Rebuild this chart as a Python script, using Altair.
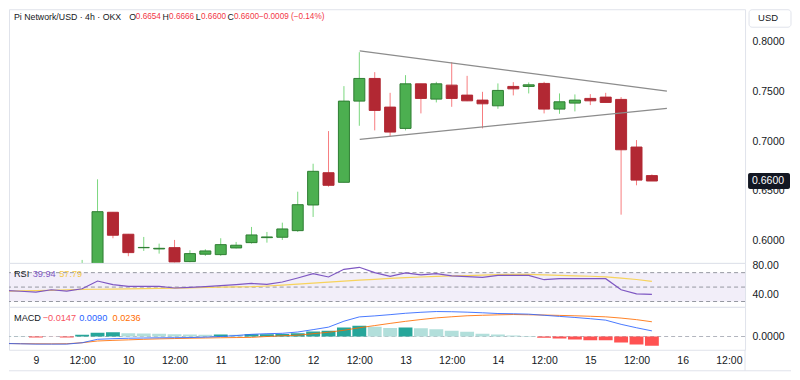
import altair as alt
import pandas as pd

# ---------------- data ----------------
# time in hours since day 9, 00:00 (4h candles)
candle_t = [12, 16, 20, 24, 28, 32, 36, 40, 44, 48, 52, 56, 60, 64, 68, 72, 76, 80, 84,
            88, 92, 96, 100, 104, 108, 112, 116, 120, 124, 128, 132, 136, 140, 144, 148, 152, 156, 160]
opens = [0.5660, 0.5750, 0.6287, 0.6067, 0.5932, 0.5920, 0.5933, 0.5793, 0.5867, 0.5863,
         0.5930, 0.5983, 0.6033, 0.6037, 0.6103, 0.6360, 0.6683, 0.6587, 0.7400, 0.7627,
         0.7340, 0.7127, 0.7573, 0.7420, 0.7560, 0.7460, 0.7410, 0.7353, 0.7547, 0.7547,
         0.7577, 0.7320, 0.7380, 0.7427, 0.7440, 0.7417, 0.6940, 0.6654]
highs = [0.5810, 0.6617, 0.6290, 0.6070, 0.6040, 0.5973, 0.6010, 0.5907, 0.5917, 0.6027,
         0.5990, 0.6140, 0.6090, 0.6183, 0.6493, 0.6773, 0.7100, 0.7550, 0.7890, 0.7690,
         0.7483, 0.7660, 0.7573, 0.7593, 0.7790, 0.7653, 0.7493, 0.7577, 0.7590, 0.7587,
         0.7593, 0.7477, 0.7467, 0.7470, 0.7483, 0.7440, 0.7010, 0.6666]
lows = [0.5620, 0.5720, 0.6027, 0.5847, 0.5900, 0.5873, 0.5785, 0.5787, 0.5850, 0.5850,
        0.5925, 0.5973, 0.5983, 0.6010, 0.6090, 0.6240, 0.6543, 0.6587, 0.7153, 0.7107,
        0.7050, 0.7107, 0.7277, 0.7387, 0.7343, 0.7400, 0.7127, 0.7323, 0.7457, 0.7477,
        0.7277, 0.7273, 0.7297, 0.7360, 0.7387, 0.6263, 0.6557, 0.6600]
closes = [0.5750, 0.6293, 0.6057, 0.5883, 0.5935, 0.5926, 0.5790, 0.5873, 0.5900, 0.5963,
          0.5957, 0.6060, 0.6040, 0.6120, 0.6363, 0.6697, 0.6557, 0.7400, 0.7627, 0.7307,
          0.7090, 0.7573, 0.7427, 0.7573, 0.7427, 0.7403, 0.7373, 0.7507, 0.7523, 0.7563,
          0.7320, 0.7393, 0.7410, 0.7403, 0.7387, 0.6913, 0.6609, 0.6600]

# indicator series start a few candles earlier (those candles are below the visible price range)
ind_t = [-8, -4, 0, 4, 8] + candle_t
rsi = [45.3, 44.2, 43.1, 46.3, 44.5,
       47.7, 58.4, 53.3, 50.9, 50.9, 50.9, 48.7, 49.6, 50.6, 52.0,
       53.5, 55.0, 53.7, 57.0, 62.6, 68.6, 64.0, 74.6, 77.4, 70.0,
       64.9, 69.6, 66.8, 68.6, 65.4, 64.5, 63.5, 66.2, 66.2, 66.2,
       60.2, 61.6, 61.6, 61.6, 61.6, 46.3, 40.7, 39.94]
rsi_ma = [44.4, 44.7, 45.0, 45.5, 46.0,
          46.7, 47.0, 47.3, 47.6, 47.9, 48.2, 48.6, 49.0, 49.4, 49.8,
          50.2, 50.6, 51.5, 52.8, 54.2, 55.6, 57.0, 58.3, 59.6, 60.8,
          62.0, 63.0, 64.0, 64.8, 65.4, 66.0, 66.6, 67.2, 67.6, 67.6,
          67.0, 66.3, 65.6, 65.0, 64.2, 62.5, 60.5, 57.79]
macd = [-0.0112, -0.0117, -0.0122, -0.0122, -0.0122,
        -0.0100, -0.0045, -0.0035, -0.0028, -0.0024, -0.0021, -0.0019, -0.0017, -0.0010, 0.0000,
        0.0015, 0.0035, 0.0045, 0.0051, 0.0072, 0.0110, 0.0150, 0.0245, 0.0314, 0.0330,
        0.0350, 0.0372, 0.0388, 0.0400, 0.0397, 0.0390, 0.0380, 0.0368, 0.0364, 0.0358,
        0.0340, 0.0322, 0.0305, 0.0285, 0.0262, 0.0195, 0.0140, 0.0090]
signal = [-0.0112, -0.0115, -0.0117, -0.0118, -0.0116,
          -0.0100, -0.0072, -0.0062, -0.0054, -0.0045, -0.0038, -0.0033, -0.0028, -0.0024, -0.0020,
          -0.0017, -0.0014, 0.0000, 0.0012, 0.0021, 0.0045, 0.0068, 0.0100, 0.0140, 0.0175,
          0.0210, 0.0243, 0.0272, 0.0298, 0.0316, 0.0332, 0.0340, 0.0347, 0.0352, 0.0348,
          0.0344, 0.0338, 0.0332, 0.0324, 0.0315, 0.0295, 0.0270, 0.0236]
hist = [0.0004, 0.0003, -0.0016, -0.0003, -0.0016,
        0.0027, 0.0059, 0.0069, 0.0053, 0.0048, 0.0046, 0.0037, 0.0032, 0.0027, 0.0032,
        0.0027, 0.0036, 0.0038, 0.0040, 0.0054, 0.0080, 0.0091, 0.0144, 0.0171, 0.0155,
        0.0138, 0.0144, 0.0134, 0.0118, 0.0091, 0.0075, 0.0043, 0.0032, 0.0016, 0.0010,
        -0.0021, -0.0032, -0.0048, -0.0059, -0.0061, -0.0096, -0.0128, -0.0147]

# triangle (drawn trend lines)
tri_t = [84.1, 163.9, 84.1, 163.9]
tri_p = [0.7903, 0.7500, 0.7017, 0.7327]
tri_id = ["upper", "upper", "lower", "lower"]

price_ticks = [0.60, 0.65, 0.70, 0.75, 0.80]
rsi_ticks = [40, 80]
rsi_levels = [70, 50, 30]
rsi_band = [30, 70]
macd_ticks = [0]
time_ticks = [0, 12, 24, 36, 48, 60, 72, 84, 96, 108, 120, 132, 144, 156, 168, 180]
time_labels = ["9", "12:00", "10", "12:00", "11", "12:00", "12", "12:00",
               "13", "12:00", "14", "12:00", "15", "12:00", "16", "12:00"]

# ---------------- style ----------------
W = 737
H_MAIN, H_RSI, H_MACD = 254, 44, 43
X_DOMAIN = [-7.0, 184.2]
FONT = "Liberation Sans"
TXT = "#131722"
GRID = "#e0e3eb"
UP, UP_EDGE, UP_WICK = "#4caf50", "#2e7d32", "#7ad77e"
DN, DN_EDGE, DN_WICK = "#b22833", "#b22833", "#f77c80"
RED_TXT = "#f23645"
HF = 8.8   # header font size
HV = 8.2   # header value font size
LF = 9.2   # indicator legend font size
AF = 10.5  # axis font size

candles = pd.DataFrame({"t": candle_t, "open": opens, "high": highs, "low": lows, "close": closes})
candles["dir"] = ["up" if c >= o else "down" for o, c in zip(opens, closes)]
candles["x0"] = candles["t"] - 1.43
candles["x1"] = candles["t"] + 1.43

ind = pd.DataFrame({"t": ind_t, "rsi": rsi, "ma": rsi_ma, "macd": macd, "signal": signal, "hist": hist})
cols = []
for i, h in enumerate(hist):
    prev = hist[i - 1] if i > 0 else h
    if h >= 0:
        cols.append("up_strong" if h > prev else "up_weak")
    else:
        cols.append("dn_strong" if h < prev else "dn_weak")
ind["hcol"] = cols
ind["x0"] = ind["t"] - 1.8
ind["x1"] = ind["t"] + 1.8
ind["zero"] = 0.0

xs = alt.Scale(domain=X_DOMAIN, nice=False, zero=False)
price_scale = alt.Scale(domain=[0.578, 0.832], nice=False, zero=False)
rsi_scale = alt.Scale(domain=[22.6, 83.5], nice=False, zero=False)
macd_scale = alt.Scale(domain=[-0.0213, 0.0475], nice=False, zero=False)


def yaxis(values, fmt):
    return alt.Axis(orient="right", values=values, format=fmt, title=None, grid=False,
                    domain=False, ticks=False, labelPadding=7, labelFont=FONT,
                    labelFontSize=AF, labelColor=TXT, labelFlush=False, labelOverlap=False)


price_axis = yaxis(price_ticks, ".4f")
rsi_axis = yaxis(rsi_ticks, ".2f")
macd_axis = yaxis(macd_ticks, ".4f")

expr = "''"
for v, s in reversed(list(zip(time_ticks, time_labels))):
    expr = f"datum.value == {v} ? '{s}' : ({expr})"
time_axis = alt.Axis(values=time_ticks, labelExpr=expr, title=None, grid=False, domain=False,
                     ticks=False, labelPadding=6, labelFont=FONT, labelFontSize=AF,
                     labelColor=TXT, labelFlush=False, labelOverlap=False)


def label(text, x, y, color, size=LF, weight="normal"):
    return alt.Chart(pd.DataFrame({"s": [text]})).mark_text(
        align="left", baseline="middle", font=FONT, fontSize=size, color=color, fontWeight=weight
    ).encode(x=alt.value(x), y=alt.value(y), text="s:N")


def fmt_signed(v, d=4):
    return f"{v:.{d}f}".replace("-", "\u2212")


# ---------------- main (price) panel ----------------
px = alt.X("t:Q", scale=xs, axis=None)
wicks = alt.Chart(candles).mark_rule(strokeWidth=1, clip=True).encode(
    x=px,
    y=alt.Y("low:Q", scale=price_scale, axis=price_axis),
    y2="high:Q",
    color=alt.Color("dir:N", scale=alt.Scale(domain=["up", "down"], range=[UP_WICK, DN_WICK]), legend=None),
)
bodies = alt.Chart(candles).mark_rect(strokeWidth=1, clip=True).encode(
    x=alt.X("x0:Q", scale=xs, axis=None),
    x2="x1:Q",
    y=alt.Y("open:Q", scale=price_scale, axis=price_axis),
    y2="close:Q",
    fill=alt.Fill("dir:N", scale=alt.Scale(domain=["up", "down"], range=[UP, DN]), legend=None),
    stroke=alt.Stroke("dir:N", scale=alt.Scale(domain=["up", "down"], range=[UP_EDGE, DN_EDGE]), legend=None),
)
tri = alt.Chart(pd.DataFrame({"t": tri_t, "p": tri_p, "id": tri_id})).mark_line(
    color="#8c8c8c", strokeWidth=1.2, clip=True
).encode(x=px, y=alt.Y("p:Q", scale=price_scale, axis=price_axis), detail="id:N")

last = pd.DataFrame({"p": [closes[-1]], "s": [f"{closes[-1]:.4f}"]})
price_box = alt.Chart(last).mark_rect(color=TXT, yOffset=-8, y2Offset=8, cornerRadius=2).encode(
    x=alt.value(W + 3), x2=alt.value(W + 45),
    y=alt.Y("p:Q", scale=price_scale, axis=price_axis), y2="p:Q",
)
price_txt = alt.Chart(last).mark_text(align="left", baseline="middle", font=FONT, fontSize=AF,
                                      color="white").encode(
    x=alt.value(W + 7), y=alt.Y("p:Q", scale=price_scale, axis=price_axis), text="s:N")

usd_box = alt.Chart(pd.DataFrame({"a": [0]})).mark_rect(
    fill="white", stroke=GRID, cornerRadius=3
).encode(x=alt.value(W + 4), x2=alt.value(W + 46), y=alt.value(0.5), y2=alt.value(18))
usd_txt = label("USD", W + 13, 9, TXT, 9.5)

chg = closes[-1] - closes[-2]
pct = chg / closes[-2] * 100
hy = 7.7
header = [
    label("Pi Network/USD \u00b7 4h \u00b7 OKX", 5, hy, TXT, HF),
    label("O", 120.3, hy, TXT, HF), label(f"{opens[-1]:.4f}", 127, hy, RED_TXT, HV),
    label("H", 153.7, hy, TXT, HF), label(f"{highs[-1]:.4f}", 160.3, hy, RED_TXT, HV),
    label("L", 187, hy, TXT, HF), label(f"{lows[-1]:.4f}", 192.3, hy, RED_TXT, HV),
    label("C", 218.7, hy, TXT, HF), label(f"{closes[-1]:.4f}", 225.3, hy, RED_TXT, HV),
    label(f"{fmt_signed(chg)} ({fmt_signed(pct, 2)}%)", 250.3, hy, RED_TXT, HV),
]

main = alt.layer(wicks, bodies, tri, price_box, price_txt, usd_box, usd_txt, *header).properties(
    width=W, height=H_MAIN)

# ---------------- RSI panel ----------------
band = alt.Chart(pd.DataFrame({"lo": [rsi_band[0]], "hi": [rsi_band[1]]})).mark_rect(
    color="#7e57c2", opacity=0.1
).encode(x=alt.value(0), x2=alt.value(W), y=alt.Y("lo:Q", scale=rsi_scale, axis=rsi_axis), y2="hi:Q")
levels = alt.Chart(pd.DataFrame({"lv": rsi_levels})).mark_rule(
    color="#9598a1", strokeDash=[4, 3], strokeWidth=1
).encode(y=alt.Y("lv:Q", scale=rsi_scale, axis=rsi_axis))
rsi_line = alt.Chart(ind).mark_line(color="#7e57c2", strokeWidth=1.2, clip=True).encode(
    x=px, y=alt.Y("rsi:Q", scale=rsi_scale, axis=rsi_axis))
ma_line = alt.Chart(ind).mark_line(color="#f7d35c", strokeWidth=1.2, clip=True).encode(
    x=px, y=alt.Y("ma:Q", scale=rsi_scale, axis=rsi_axis))
rsi_lbls = [
    label("RSI", 5, 11.3, TXT),
    label(f"{rsi[-1]:.2f}", 23.7, 11.3, "#7e57c2"),
    label(f"{rsi_ma[-1]:.2f}", 50.3, 11.3, "#f2c94c"),
]
rsi_panel = alt.layer(band, levels, ma_line, rsi_line, *rsi_lbls).properties(width=W, height=H_RSI)

# ---------------- MACD panel ----------------
tx = alt.X("t:Q", scale=xs, axis=time_axis)
zero_line = alt.Chart(pd.DataFrame({"z": macd_ticks})).mark_rule(
    color="#b2b5be", strokeDash=[4, 3], strokeWidth=1
).encode(y=alt.Y("z:Q", scale=macd_scale, axis=macd_axis))
bars = alt.Chart(ind).mark_rect(clip=True).encode(
    x=alt.X("x0:Q", scale=xs, axis=time_axis),
    x2="x1:Q",
    y=alt.Y("hist:Q", scale=macd_scale, axis=macd_axis),
    y2="zero:Q",
    color=alt.Color("hcol:N", scale=alt.Scale(domain=["up_strong", "up_weak", "dn_strong", "dn_weak"],
                                              range=["#26a69a", "#b2dfdb", "#ff5252", "#ffcdd2"]),
                    legend=None),
)
macd_line = alt.Chart(ind).mark_line(color="#2962ff", strokeWidth=1, clip=True, opacity=0.85).encode(
    x=tx, y=alt.Y("macd:Q", scale=macd_scale, axis=macd_axis))
sig_line = alt.Chart(ind).mark_line(color="#ff6d00", strokeWidth=1, clip=True, opacity=0.85).encode(
    x=tx, y=alt.Y("signal:Q", scale=macd_scale, axis=macd_axis))
macd_lbls = [
    label("MACD", 5, 10.7, TXT),
    label(fmt_signed(hist[-1]), 33.7, 10.7, "#f7525f"),
    label(f"{macd[-1]:.4f}", 70.3, 10.7, "#2962ff"),
    label(f"{signal[-1]:.4f}", 103.7, 10.7, "#ff6d00"),
]
bottom_rule = alt.Chart(pd.DataFrame({"a": [0]})).mark_rule(color=GRID).encode(
    x=alt.value(0), x2=alt.value(W + 46), y=alt.value(H_MACD + 21), y2=alt.value(H_MACD + 21))
side_rule = alt.Chart(pd.DataFrame({"a": [0]})).mark_rule(color=GRID).encode(
    x=alt.value(W), x2=alt.value(W), y=alt.value(H_MACD), y2=alt.value(H_MACD + 21))
macd_panel = alt.layer(zero_line, bars, sig_line, macd_line, bottom_rule, side_rule, *macd_lbls).properties(
    width=W, height=H_MACD)

chart = alt.vconcat(main, rsi_panel, macd_panel, spacing=0, bounds="flush").resolve_scale(
    y="independent", color="independent", fill="independent", stroke="independent"
).properties(
    padding={"left": 0, "top": 0, "right": 0, "bottom": 0}, background="white"
).configure_view(stroke=GRID, strokeWidth=1)

chart.save("out.html", embed_options={"renderer": "svg", "actions": False})
